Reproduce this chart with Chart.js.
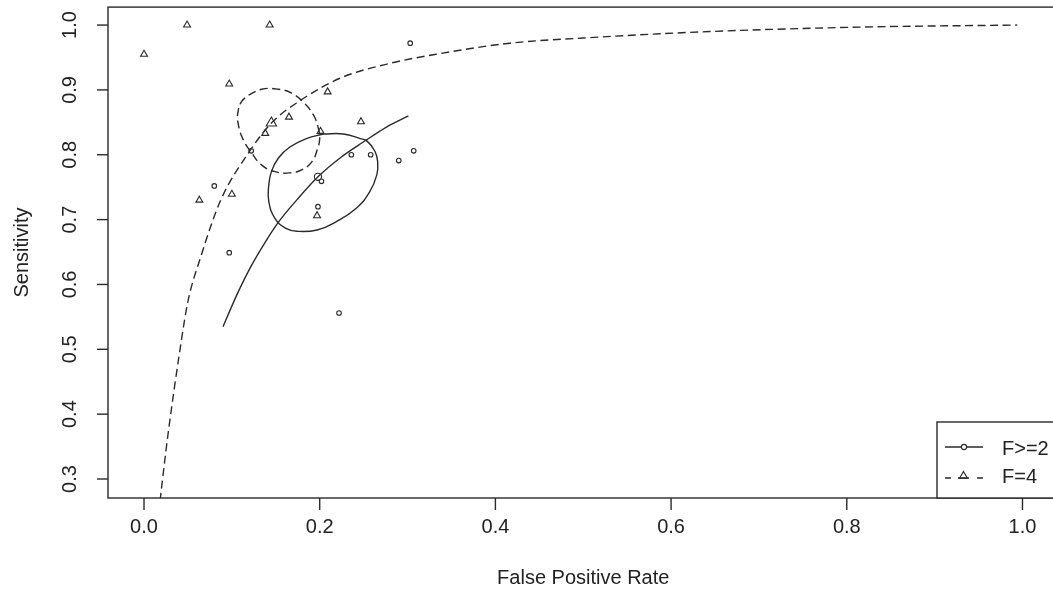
<!DOCTYPE html>
<html>
<head>
<meta charset="utf-8">
<script src="https://cdn.jsdelivr.net/npm/chart.js@4.4.1/dist/chart.umd.min.js"></script>
<style>
  html, body { margin: 0; padding: 0; background: #fff; overflow: hidden; }
  #wrap { width: 1066px; height: 606px; }
</style>
</head>
<body>
<div id="wrap"><canvas id="c" width="1066" height="606"></canvas></div>
<script>
// Axis ticks and titles
const xTicks = [0, 0.2, 0.4, 0.6, 0.8, 1.0];
const yTicks = [0.3, 0.4, 0.5, 0.6, 0.7, 0.8, 0.9, 1.0];
const xTitle = 'False Positive Rate';
const yTitle = 'Sensitivity';
const groupNames = ['F>=2', 'F=4'];

// Study estimates, threshold F>=2 (circles)
const fprF2  = [0.303, 0.122, 0.236, 0.258, 0.290, 0.307, 0.202, 0.080, 0.198, 0.097, 0.222];
const sensF2 = [0.972, 0.806, 0.800, 0.800, 0.791, 0.806, 0.759, 0.752, 0.720, 0.649, 0.556];

// Study estimates, threshold F=4 (triangles)
const fprF4  = [0.000, 0.049, 0.143, 0.097, 0.209, 0.165, 0.138, 0.201, 0.247, 0.063, 0.100, 0.197];
const sensF4 = [0.955, 1.000, 1.000, 0.909, 0.897, 0.858, 0.833, 0.836, 0.851, 0.730, 0.739, 0.706];

// Summary operating points [F>=2, F=4]
const summaryFpr  = [0.198, 0.145];
const summarySens = [0.766, 0.849];

// SROC curve, F>=2
const srocF2Fpr  = [0.090, 0.105, 0.121, 0.137, 0.153, 0.175, 0.198, 0.225, 0.250, 0.275, 0.301];
const srocF2Sens = [0.535, 0.582, 0.626, 0.663, 0.696, 0.732, 0.766, 0.797, 0.820, 0.842, 0.860];

// SROC curve, F=4
const srocF4Fpr  = [0.012, 0.018, 0.022, 0.028, 0.041, 0.050, 0.064, 0.087, 0.121, 0.145, 0.176, 0.223, 0.280, 0.337, 0.416, 0.500, 0.644, 0.821, 0.994];
const srocF4Sens = [0.170, 0.262, 0.310, 0.376, 0.500, 0.574, 0.640, 0.729, 0.807, 0.849, 0.882, 0.918, 0.941, 0.956, 0.972, 0.980, 0.990, 0.997, 1.000];

// Confidence region outline, F>=2
const regionF2Fpr  = [0.204, 0.227, 0.246, 0.254, 0.263, 0.266, 0.265, 0.257, 0.242, 0.219, 0.197, 0.174, 0.161, 0.149, 0.142, 0.142, 0.145, 0.153, 0.166, 0.185];
const regionF2Sens = [0.832, 0.832, 0.825, 0.821, 0.805, 0.789, 0.769, 0.743, 0.718, 0.697, 0.684, 0.682, 0.687, 0.702, 0.728, 0.753, 0.774, 0.795, 0.812, 0.825];

// Confidence region outline, F=4
const regionF4Fpr  = [0.119, 0.134, 0.153, 0.168, 0.183, 0.193, 0.198, 0.200, 0.197, 0.191, 0.180, 0.166, 0.149, 0.134, 0.123, 0.113, 0.107, 0.107, 0.111];
const regionF4Sens = [0.892, 0.901, 0.901, 0.895, 0.879, 0.861, 0.843, 0.825, 0.807, 0.789, 0.777, 0.772, 0.774, 0.784, 0.802, 0.823, 0.849, 0.866, 0.882];

const INK = '#2a2a2a';
const TEXT = '#222222';
const FONT = "'Liberation Sans', Arial, Helvetica, sans-serif";
const DASH = [8, 4.5];

const toXY = (xs, ys) => xs.map((x, i) => ({ x: x, y: ys[i] }));
const closeLoop = pts => pts.concat([pts[0]]);

function pointSet(label, data, style, radius) {
  return {
    label: label, data: data, showLine: false,
    pointStyle: style, pointRadius: radius,
    pointBorderColor: INK, pointBackgroundColor: 'rgba(0,0,0,0)',
    pointBorderWidth: 1.1
  };
}
function lineSet(label, data, dashed, closed) {
  return {
    label: label, data: closed ? closeLoop(data) : data, showLine: true,
    borderColor: INK, borderWidth: 1.4, borderDash: dashed ? DASH : [],
    pointRadius: 0, fill: false, clip: 0,
    tension: closed ? 0.45 : 0,
    cubicInterpolationMode: closed ? 'default' : 'monotone'
  };
}

const datasets = [
  lineSet(groupNames[0] + ' SROC', toXY(srocF2Fpr, srocF2Sens), false, false),
  lineSet(groupNames[1] + ' SROC', toXY(srocF4Fpr, srocF4Sens), true, false),
  lineSet(groupNames[0] + ' region', toXY(regionF2Fpr, regionF2Sens), false, true),
  lineSet(groupNames[1] + ' region', toXY(regionF4Fpr, regionF4Sens), true, true),
  pointSet(groupNames[0], toXY(fprF2, sensF2), 'circle', 2.3),
  pointSet(groupNames[1], toXY(fprF4, sensF4), 'triangle', 4),
  pointSet(groupNames[0] + ' summary', [{ x: summaryFpr[0], y: summarySens[0] }], 'circle', 3.6),
  pointSet(groupNames[1] + ' summary', [{ x: summaryFpr[1], y: summarySens[1] }], 'triangle', 6)
];

// Frame, ticks, labels, titles and legend in base-graphics style
const framePlugin = {
  id: 'frame',
  afterDraw(chart) {
    const ctx = chart.ctx;
    const a = chart.chartArea;
    const xs = chart.scales.x, ys = chart.scales.y;
    ctx.save();
    ctx.strokeStyle = INK;
    ctx.lineWidth = 1.4;
    ctx.setLineDash([]);
    ctx.strokeRect(a.left, a.top, a.right - a.left, a.bottom - a.top);

    ctx.fillStyle = TEXT;
    ctx.font = '20px ' + FONT;
    ctx.textAlign = 'center';
    ctx.textBaseline = 'middle';

    xTicks.forEach(v => {
      const px = xs.getPixelForValue(v);
      ctx.beginPath();
      ctx.moveTo(px, a.bottom);
      ctx.lineTo(px, a.bottom + 12);
      ctx.stroke();
      ctx.fillText(v.toFixed(1), px, a.bottom + 29);
    });
    yTicks.forEach(v => {
      const py = ys.getPixelForValue(v);
      ctx.beginPath();
      ctx.moveTo(a.left - 11, py);
      ctx.lineTo(a.left, py);
      ctx.stroke();
      ctx.save();
      ctx.translate(a.left - 38, py);
      ctx.rotate(-Math.PI / 2);
      ctx.fillText(v.toFixed(1), 0, 0);
      ctx.restore();
    });

    ctx.fillText(xTitle, (a.left + a.right) / 2, a.bottom + 80);
    ctx.save();
    ctx.translate(22, (a.top + a.bottom) / 2);
    ctx.rotate(-Math.PI / 2);
    ctx.fillText(yTitle, 0, 0);
    ctx.restore();

    // legend, bottom-right corner of the plot region
    const lx = 937, ly = 422;
    ctx.fillStyle = '#fff';
    ctx.fillRect(lx, ly, a.right - lx, a.bottom - ly);
    ctx.strokeRect(lx, ly, a.right - lx, a.bottom - ly);
    const rows = [447, 477];
    ctx.lineWidth = 1.3;
    // solid entry
    ctx.beginPath();
    ctx.moveTo(945, rows[0]);
    ctx.lineTo(983, rows[0]);
    ctx.stroke();
    ctx.beginPath();
    ctx.arc(964, rows[0], 2.6, 0, Math.PI * 2);
    ctx.fillStyle = '#fff';
    ctx.fill();
    ctx.lineWidth = 1.1;
    ctx.stroke();
    // dashed entry
    ctx.lineWidth = 1.3;
    ctx.beginPath();
    ctx.moveTo(945, rows[1] + 1);
    ctx.lineTo(951, rows[1] + 1);
    ctx.moveTo(977, rows[1] + 1);
    ctx.lineTo(983, rows[1] + 1);
    ctx.moveTo(958, rows[1] + 1);
    ctx.lineTo(969, rows[1] + 1);
    ctx.stroke();
    ctx.lineWidth = 1.1;
    const r = 4.6, cx = 963.5, cy = rows[1] - 1;
    ctx.beginPath();
    for (let k = 0; k < 3; k++) {
      const ang = k * 2 * Math.PI / 3;
      const px = cx + Math.sin(ang) * r, py = cy - Math.cos(ang) * r;
      if (k === 0) ctx.moveTo(px, py); else ctx.lineTo(px, py);
    }
    ctx.closePath();
    ctx.stroke();

    ctx.fillStyle = TEXT;
    ctx.textAlign = 'left';
    ctx.fillText(groupNames[0], 1002, rows[0] + 2);
    ctx.fillText(groupNames[1], 1002, rows[1]);
    ctx.restore();
  }
};

new Chart(document.getElementById('c'), {
  type: 'scatter',
  data: { datasets: datasets },
  options: {
    responsive: false,
    animation: false,
    devicePixelRatio: 1,
    events: [],
    layout: { padding: { left: 0, top: 7, right: 7.5, bottom: 0 } },
    plugins: { legend: { display: false }, tooltip: { enabled: false } },
    scales: {
      x: {
        type: 'linear', min: -0.041, max: 1.041,
        grid: { display: false }, border: { display: false }, ticks: { display: false },
        afterFit(s) { s.height = 108; }
      },
      y: {
        type: 'linear', min: 0.2707, max: 1.0277,
        grid: { display: false }, border: { display: false }, ticks: { display: false },
        afterFit(s) { s.width = 108; }
      }
    }
  },
  plugins: [framePlugin]
});
</script>
</body>
</html>
